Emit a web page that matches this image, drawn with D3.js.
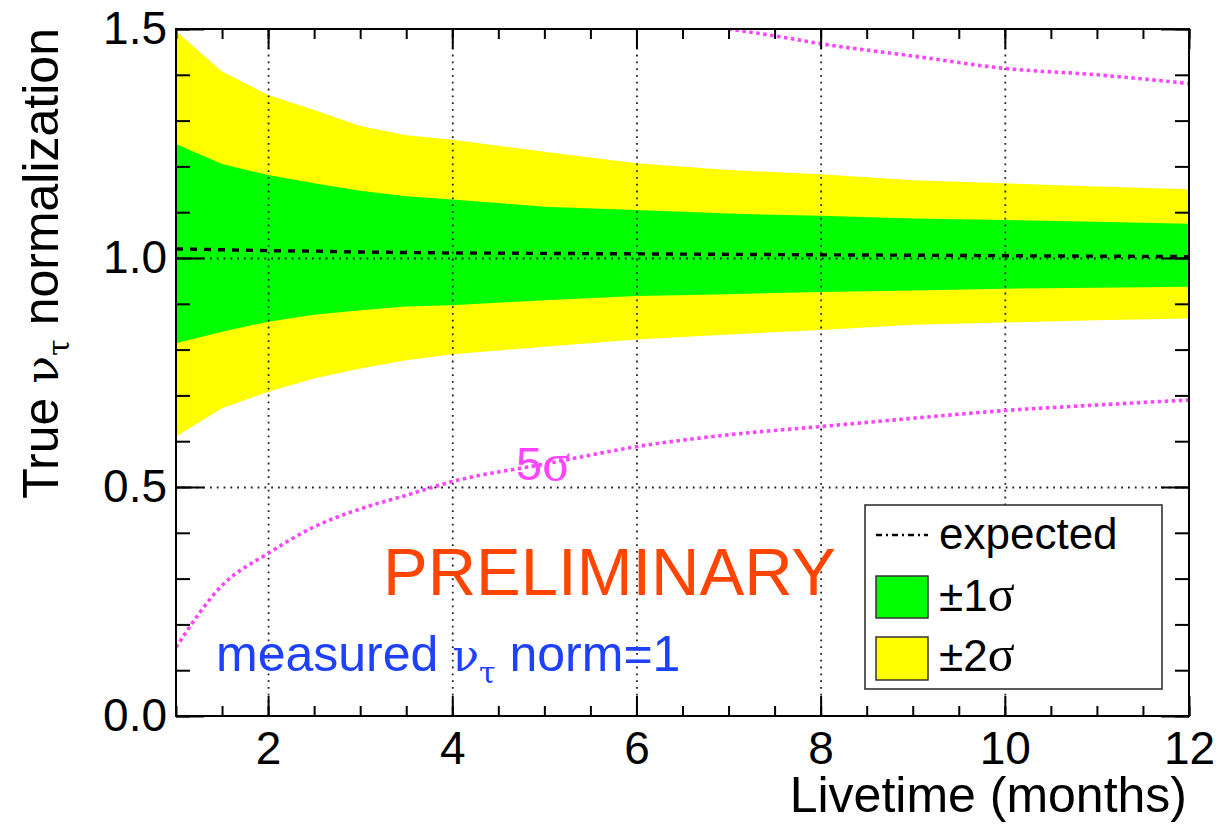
<!DOCTYPE html>
<html><head><meta charset="utf-8">
<script src="https://cdn.jsdelivr.net/npm/d3@7"></script>
<style>
body{margin:0;background:#fff}
svg{display:block}
text{font-family:"Liberation Sans",Arial,Helvetica,sans-serif}
.sym{font-family:"DejaVu Serif","Liberation Serif",serif}
.sym2{font-family:"Liberation Serif","Times New Roman",serif}
</style>
</head><body>
<svg id="c" width="1220" height="824"></svg>
<script>
// ---- data ----
const months   = [1, 1.5, 2, 2.5, 3, 3.5, 4, 5, 6, 7, 8, 9, 10, 11, 12];
const up2sigma = [1.495, 1.407, 1.356, 1.323, 1.288, 1.268, 1.258, 1.232, 1.207, 1.192, 1.183, 1.170, 1.163, 1.156, 1.150];
const up1sigma = [1.249, 1.205, 1.181, 1.163, 1.147, 1.135, 1.128, 1.112, 1.105, 1.097, 1.092, 1.086, 1.083, 1.079, 1.075];
const lo1sigma = [0.814, 0.839, 0.861, 0.876, 0.886, 0.894, 0.897, 0.908, 0.917, 0.921, 0.926, 0.929, 0.933, 0.935, 0.937];
const lo2sigma = [0.610, 0.672, 0.708, 0.737, 0.759, 0.777, 0.790, 0.806, 0.822, 0.833, 0.843, 0.854, 0.859, 0.864, 0.868];
const expected = [1.020, 1.018, 1.016, 1.015, 1.013, 1.012, 1.011, 1.010, 1.009, 1.008, 1.007, 1.006, 1.005, 1.004, 1.003];
const fiveSigmaLow = [0.150, 0.285, 0.355, 0.413, 0.452, 0.482, 0.512, 0.550, 0.588, 0.614, 0.632, 0.650, 0.667, 0.679, 0.690];
const fiveSigmaHighMonths = [7, 7.5, 8, 9, 10, 11, 12];
const fiveSigmaHigh       = [1.500, 1.485, 1.468, 1.441, 1.414, 1.400, 1.381];
const xMajorTicks = [2, 4, 6, 8, 10, 12];
const xMinorTicks = d3.range(1, 12.01, 0.5);
const yMajorTicks = [0.0, 0.5, 1.0, 1.5];
const yMinorTicks = d3.range(0, 1.501, 0.1);
const xGrid = [2, 4, 6, 8, 10];
const yGrid = [0.5, 1.0];

// ---- layout ----
const L = 176, R = 1189, T = 29, B = 716;
const x = d3.scaleLinear().domain([1, 12]).range([L, R]);
const y = d3.scaleLinear().domain([0, 1.5]).range([B, T]);
const svg = d3.select("#c");

svg.append("defs").append("clipPath").attr("id", "plot")
  .append("rect").attr("x", L).attr("y", T).attr("width", R - L).attr("height", B - T);
const plot = svg.append("g").attr("clip-path", "url(#plot)");

const band = (lo, hi) => d3.area()
  .x((d, i) => x(months[i]))
  .y0((d, i) => y(lo[i]))
  .y1((d, i) => y(hi[i]));

plot.append("path").datum(months).attr("d", band(lo2sigma, up2sigma)).attr("fill", "#ffff00");
plot.append("path").datum(months).attr("d", band(lo1sigma, up1sigma)).attr("fill", "#00ff00");

// grid lines
const gridStyle = g => {
  g.select(".domain").remove();
  g.selectAll(".tick line").attr("stroke", "#222").attr("stroke-width", 1.8).attr("stroke-dasharray", "1.8,5");
};
plot.append("g").attr("transform", `translate(0,${B})`)
  .call(d3.axisBottom(x).tickValues(xGrid).tickSize(-(B - T)).tickFormat(""))
  .call(gridStyle);
plot.append("g").attr("transform", `translate(${L},0)`)
  .call(d3.axisLeft(y).tickValues(yGrid).tickSize(-(R - L)).tickFormat(""))
  .call(gridStyle);

// expected line
plot.append("path").datum(months)
  .attr("d", d3.line().x((d, i) => x(months[i])).y((d, i) => y(expected[i])))
  .attr("fill", "none").attr("stroke", "#000").attr("stroke-width", 3.4).attr("stroke-dasharray", "7,7");

// 5 sigma curves
const magenta = "#ff44ff";
plot.append("path").datum(months)
  .attr("d", d3.line().curve(d3.curveMonotoneX).x((d, i) => x(months[i])).y((d, i) => y(fiveSigmaLow[i])))
  .attr("fill", "none").attr("stroke", magenta).attr("stroke-width", 3.6).attr("stroke-dasharray", "3.5,3.5");
plot.append("path").datum(fiveSigmaHighMonths)
  .attr("d", d3.line().curve(d3.curveMonotoneX).x((d, i) => x(fiveSigmaHighMonths[i])).y((d, i) => y(fiveSigmaHigh[i])))
  .attr("fill", "none").attr("stroke", magenta).attr("stroke-width", 3.6).attr("stroke-dasharray", "3.5,3.5");

// ---- axes ----
const axStyle = g => {
  g.select(".domain").remove();
  g.selectAll(".tick line").attr("stroke", "#000").attr("stroke-width", 2);
  g.selectAll(".tick text").attr("fill", "#000").style("font-size", "46px").style("font-family", "Liberation Sans, Arial, sans-serif");
};
svg.append("g").attr("transform", `translate(0,${B})`)
  .call(d3.axisBottom(x).tickValues(xMinorTicks).tickSizeInner(-10).tickSizeOuter(0).tickFormat("")).call(axStyle);
svg.append("g").attr("transform", `translate(0,${B})`)
  .call(d3.axisBottom(x).tickValues(xMajorTicks).tickSizeInner(-20).tickSizeOuter(0).tickPadding(15).tickFormat(d3.format("d"))).call(axStyle);
svg.append("g").attr("transform", `translate(0,${T})`)
  .call(d3.axisTop(x).tickValues(xMinorTicks).tickSizeInner(-10).tickSizeOuter(0).tickFormat("")).call(axStyle);
svg.append("g").attr("transform", `translate(0,${T})`)
  .call(d3.axisTop(x).tickValues(xMajorTicks).tickSizeInner(-20).tickSizeOuter(0).tickFormat("")).call(axStyle);
svg.append("g").attr("transform", `translate(${L},0)`)
  .call(d3.axisLeft(y).tickValues(yMinorTicks).tickSizeInner(-14).tickSizeOuter(0).tickFormat("")).call(axStyle);
svg.append("g").attr("transform", `translate(${L},0)`)
  .call(d3.axisLeft(y).tickValues(yMajorTicks).tickSizeInner(-28).tickSizeOuter(0).tickPadding(9).tickFormat(d3.format(".1f"))).call(axStyle);
svg.append("g").attr("transform", `translate(${R},0)`)
  .call(d3.axisRight(y).tickValues(yMinorTicks).tickSizeInner(-14).tickSizeOuter(0).tickFormat("")).call(axStyle);
svg.append("g").attr("transform", `translate(${R},0)`)
  .call(d3.axisRight(y).tickValues(yMajorTicks).tickSizeInner(-28).tickSizeOuter(0).tickFormat("")).call(axStyle);

// frame
svg.append("rect").attr("x", L).attr("y", T).attr("width", R - L).attr("height", B - T)
  .attr("fill", "none").attr("stroke", "#000").attr("stroke-width", 2);

// axis titles
svg.append("text").attr("x", 1187).attr("y", 812).attr("text-anchor", "end")
  .style("font-size", "50px").text("Livetime (months)");

const yt = svg.append("text").attr("transform", "translate(58,28) rotate(-90)")
  .attr("text-anchor", "end").style("font-size", "50px");
yt.append("tspan").text("True ");
yt.append("tspan").attr("class", "sym").style("font-size", "46px").text("ν");
yt.append("tspan").attr("class", "sym").attr("dy", 11).style("font-size", "30px").text("τ");
yt.append("tspan").attr("dy", -11).text(" normalization");

// annotations
svg.append("text").attr("x", 383).attr("y", 595).style("font-size", "67px").attr("fill", "#ff4500").text("PRELIMINARY");

const mt = svg.append("text").attr("x", 216).attr("y", 671).style("font-size", "50px").attr("fill", "#1e40ff");
mt.append("tspan").text("measured ");
mt.append("tspan").attr("class", "sym").style("font-size", "44px").text("ν");
mt.append("tspan").attr("class", "sym").attr("dy", 12).style("font-size", "30px").text("τ");
mt.append("tspan").attr("dy", -12).text(" norm=1");

const st = svg.append("text").attr("x", 516).attr("y", 480).style("font-size", "47px").attr("fill", magenta);
st.append("tspan").text("5");
st.append("tspan").attr("class", "sym2").style("font-size", "52px").text("σ");

// legend
const lg = svg.append("g");
lg.append("rect").attr("x", 865).attr("y", 505).attr("width", 297).attr("height", 184)
  .attr("fill", "#fff").attr("stroke", "#333").attr("stroke-width", 1.6);
lg.append("line").attr("x1", 876).attr("x2", 928).attr("y1", 535).attr("y2", 535)
  .attr("stroke", "#000").attr("stroke-width", 2.5).attr("stroke-dasharray", "6,4,2,4");
lg.append("text").attr("x", 939).attr("y", 549).style("font-size", "44px").text("expected");
lg.append("rect").attr("x", 876).attr("y", 576).attr("width", 52).attr("height", 42)
  .attr("fill", "#00ff00").attr("stroke", "#333").attr("stroke-width", 1.5);
const t1 = lg.append("text").attr("x", 939).attr("y", 611).style("font-size", "44px");
t1.append("tspan").text("±1"); t1.append("tspan").attr("class", "sym2").style("font-size", "50px").text("σ");
lg.append("rect").attr("x", 876).attr("y", 637).attr("width", 52).attr("height", 43)
  .attr("fill", "#ffff00").attr("stroke", "#333").attr("stroke-width", 1.5);
const t2 = lg.append("text").attr("x", 939).attr("y", 671).style("font-size", "44px");
t2.append("tspan").text("±2"); t2.append("tspan").attr("class", "sym2").style("font-size", "50px").text("σ");
</script>
</body></html>
